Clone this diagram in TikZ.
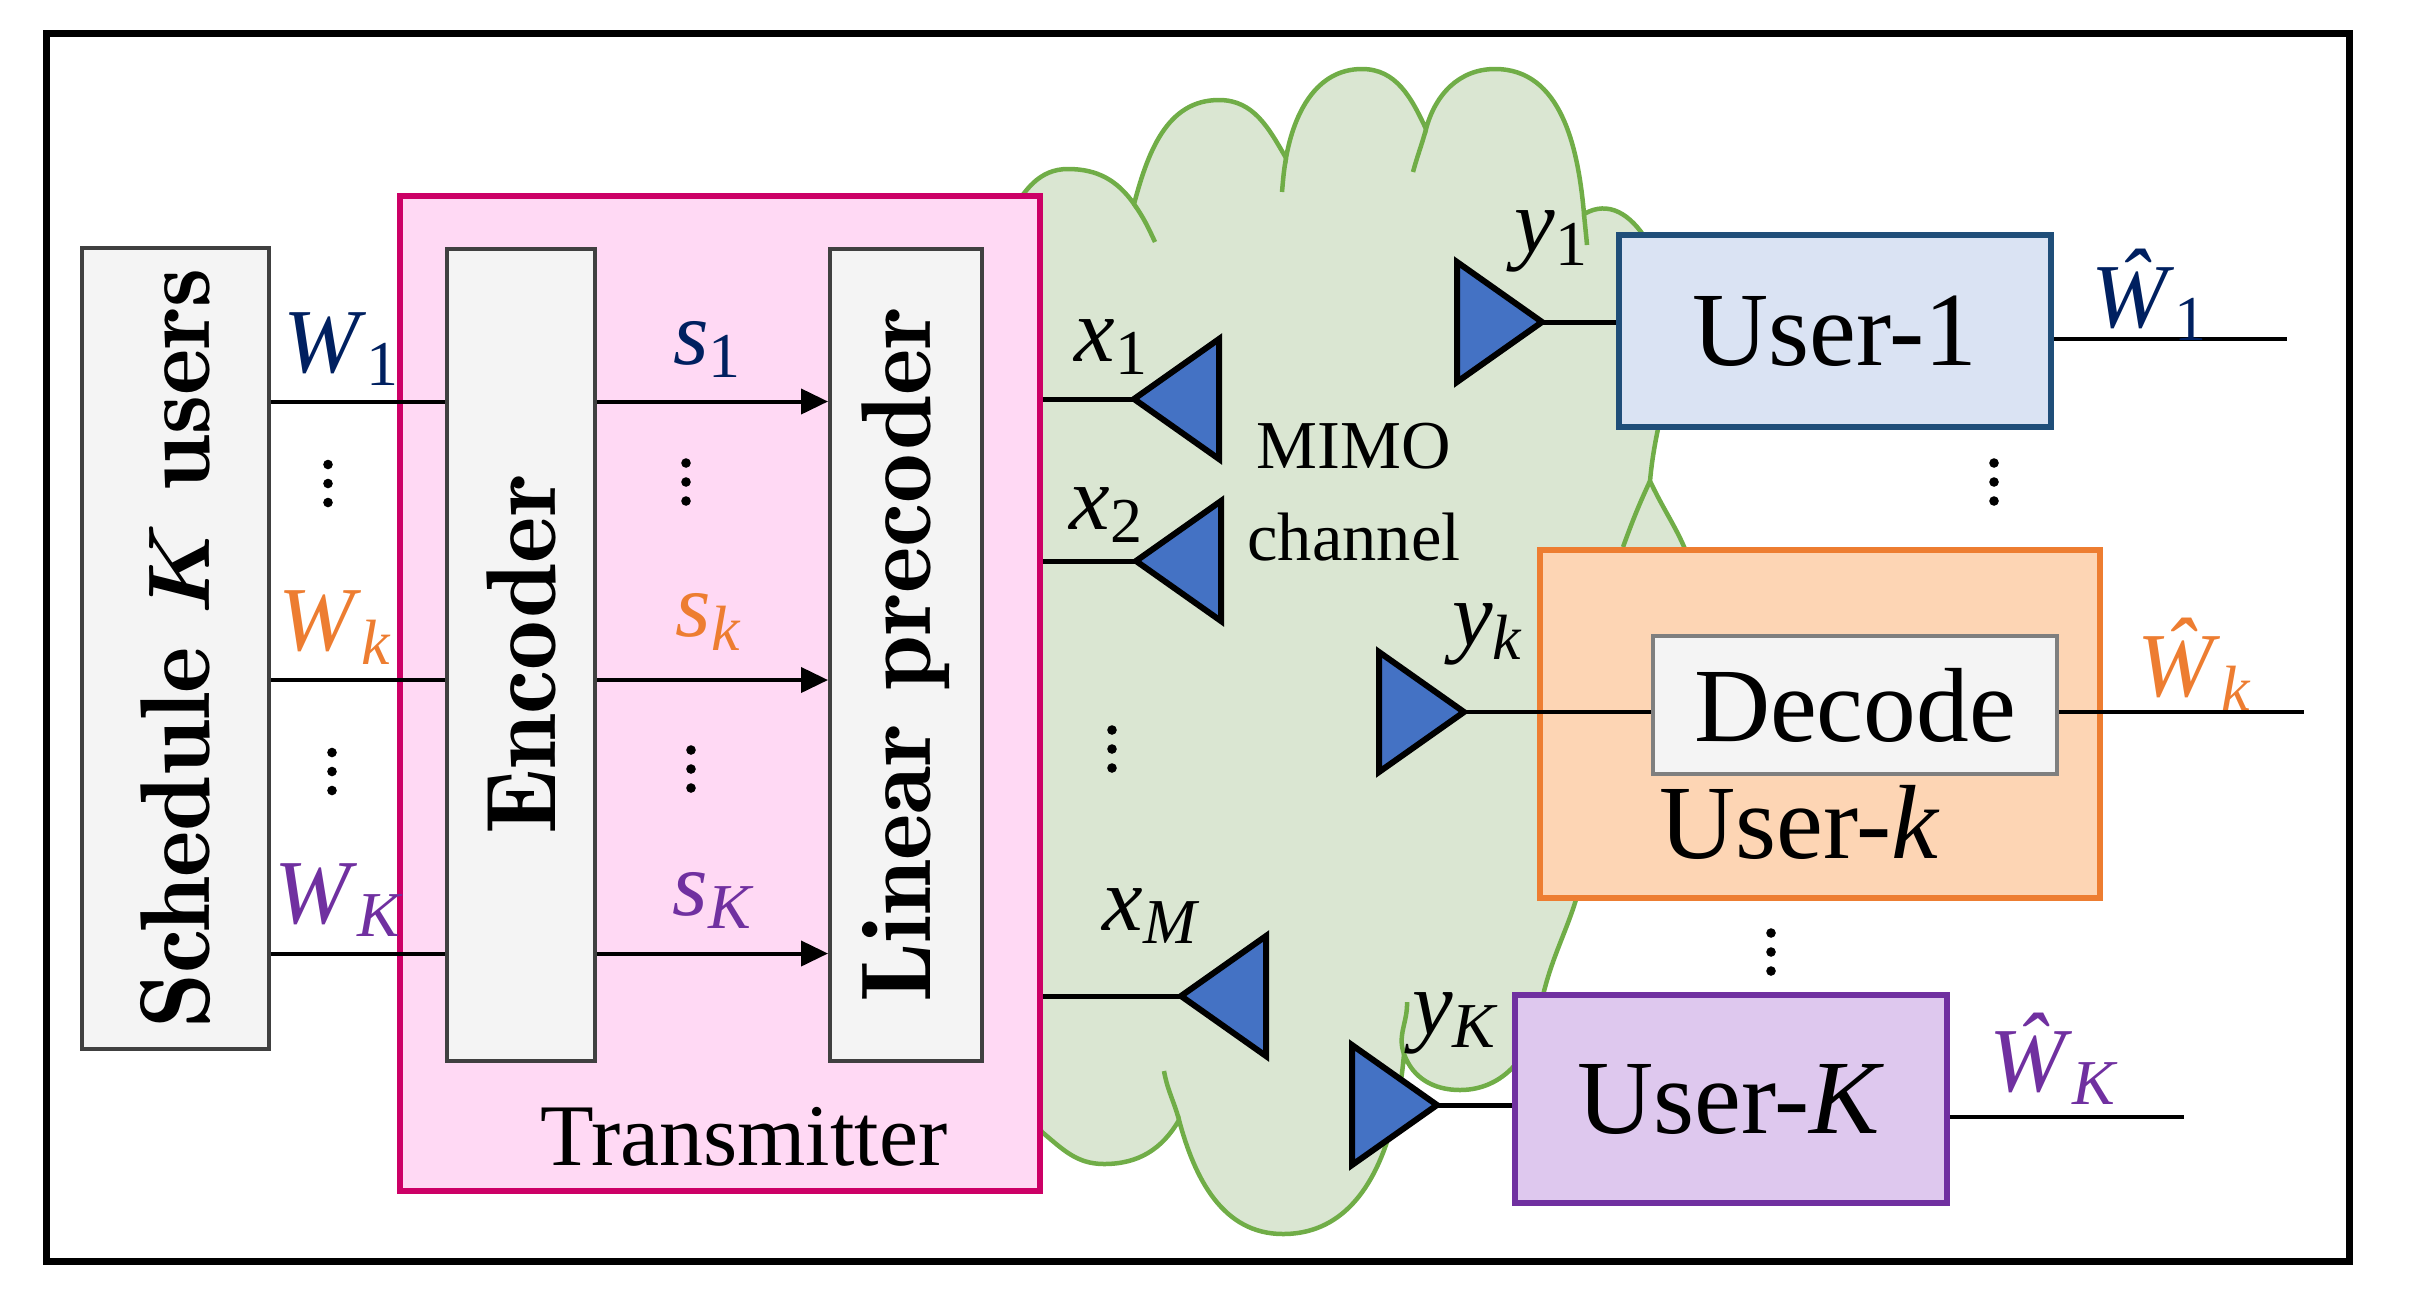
\documentclass[tikz,border=0pt]{standalone}
\usepackage{amsmath}
\usepackage{fontspec}
\usepackage{tikz}
\usetikzlibrary{arrows.meta}
\newfontfamily\tnr{Liberation Serif}
\newfontfamily\lmten{lmromandemi10-regular.otf}
\definecolor{grayfill}{HTML}{F4F4F4}
\definecolor{grayline}{HTML}{404040}
\definecolor{decline}{HTML}{7F7F7F}
\definecolor{pinkfill}{HTML}{FFD9F4}
\definecolor{pinkline}{HTML}{CC0066}
\definecolor{cloudfill}{HTML}{DAE6D2}
\definecolor{cloudgreen}{HTML}{70AD47}
\definecolor{bluefill}{HTML}{DAE3F3}
\definecolor{blueline}{HTML}{1F4E79}
\definecolor{orangefill}{HTML}{FDD5B4}
\definecolor{orangec}{HTML}{ED7D31}
\definecolor{purplefill}{HTML}{DEC8EE}
\definecolor{purplec}{HTML}{7030A0}
\definecolor{navyc}{HTML}{002060}
\definecolor{antblue}{HTML}{4472C4}
\newcommand{\lbl}[2]{\textit{#1}\textsubscript{#2}}

\begin{document}
\begin{tikzpicture}[x=0.1mm, y=-0.1mm,
  gbox/.style={draw=grayline, fill=grayfill, line width=0.4mm, inner sep=0pt, font=\lmten\fontsize{28.2}{34}\selectfont},
  ubox/.style={line width=0.65mm, inner sep=0pt, font=\tnr\fontsize{30}{36}\selectfont},
  lab/.style={font=\tnr\fontsize{26}{30}\selectfont, anchor=base, inner sep=0pt},
  wire/.style={line width=0.4mm},
  awire/.style={line width=0.5mm},
  ant/.style={fill=antblue, draw=black, line width=0.6mm},
  cloudline/.style={draw=cloudgreen, line width=0.45mm},
  rxant/.pic={\filldraw[ant] (0,0) -- (-85,-60) -- (-85,60) -- cycle;},
  txant/.pic={\filldraw[ant] (0,0) -- (85,-60) -- (85,60) -- cycle;},
  vdts/.pic={\foreach \d in {-19,0,19} \fill (0,\d) circle (0.48mm);}]
\useasboundingbox (0,0) rectangle (2423,1297);
\draw[line width=0.7mm] (46,33) rectangle (2349,1261);

\path[cloudline, fill=cloudfill] (1020,1100) -- (1010,215)
  to[out=60,in=180] (1068,169) to[out=0,in=125] (1134,204)
  to[out=75,in=180] (1219,100) to[out=0,in=120] (1286,158)
  to[out=80,in=180] (1362,69) to[out=0,in=115] (1426,129)
  to[out=75,in=180] (1495,69) to[out=0,in=95] (1584,214)
  to[out=30,in=90] (1672,330) to[out=-90,in=85] (1650,481)
  to[out=-65,in=90] (1695,600) to[out=-90,in=20] (1545,745)
  to[out=-20,in=90] (1585,840) to[out=-90,in=80] (1540,1010)
  to[out=-100,in=0] (1460,1090) to[out=180,in=-70] (1404,1054)
  to[out=-95,in=0] (1283,1234) to[out=180,in=-75] (1179,1120)
  to[out=-120,in=0] (1104,1164) to[out=180,in=-40] (1042,1132) -- cycle;
\draw[cloudline] (1134,204) to[out=-55,in=115] (1155,242);
\draw[cloudline] (1282,192) to[out=85,in=-100] (1286,158);
\draw[cloudline] (1413,172) to[out=75,in=-105] (1426,129);
\draw[cloudline] (1584,214) to[out=-85,in=95] (1587,245);
\draw[cloudline] (1650,481) to[out=-115,in=70] (1623,547);
\draw[cloudline] (1404,1054) to[out=110,in=-88] (1407,1002);
\draw[cloudline] (1179,1120) to[out=105,in=-80] (1164,1071);

\node[draw=pinkline, fill=pinkfill, line width=0.6mm, minimum width=64mm, minimum height=99.5mm] (tx) at (720,693.5) {};
\node[font=\tnr\fontsize{25}{30}\selectfont, anchor=base, inner sep=0pt] (txlabel) at (744,1165) {Transmitter};
\node[gbox, rotate=90, minimum width=80.1mm, minimum height=18.7mm] (sched) at (175.5,648.5) {Schedule $\boldsymbol{K}$ users};
\node[gbox, rotate=90, minimum width=81.2mm, minimum height=14.8mm] (enc) at (521,654.5) {Encoder};
\node[gbox, rotate=90, minimum width=81.2mm, minimum height=15.2mm] (prec) at (906,655) {Linear precoder};

\node[ubox, draw=blueline, fill=bluefill, minimum width=43.2mm, minimum height=19.2mm] (user1) at (1835,331) {User-1};
\node[ubox, draw=orangec, fill=orangefill, minimum width=56mm, minimum height=34.8mm] (userk) at (1820,724) {};
\node[ubox, draw=decline, fill=grayfill, line width=0.45mm, minimum width=40.4mm, minimum height=13.8mm] (decode) at (1855,705) {Decode};
\node[font=\tnr\fontsize{30}{36}\selectfont, anchor=base, inner sep=0pt] (userklabel) at (1800,858) {User-\textit{k}};
\node[ubox, draw=purplec, fill=purplefill, minimum width=43.2mm, minimum height=20.8mm] (userK) at (1731,1099) {User-\textit{K}};
\node[font=\tnr\fontsize{19.5}{26.2}\selectfont, align=center, anchor=north, inner sep=0pt] (mimo) at (1354,422) {MIMO\\channel};

\coordinate (r1) at (0,401.5);
\coordinate (rk) at (0,680);
\coordinate (rK) at (0,953.5);
\foreach \r in {r1,rk,rK} {
  \draw[wire] (sched.south |- \r) -- (enc.north |- \r);
  \draw[wire, -{Triangle[length=2.7mm, width=2.5mm]}] (enc.south |- \r) -- (prec.north |- \r);
}

\coordinate (tx1) at (1134,399);
\coordinate (tx2) at (1136,561);
\coordinate (txM) at (1181,996);
\coordinate (rx1) at (1542,322);
\coordinate (rxk) at (1464,712);
\coordinate (rxK) at (1437,1105);
\foreach \a in {tx1,tx2,txM} {
  \draw[awire] (tx.east |- \a) -- (\a);
  \pic at (\a) {txant};
}
\foreach \a in {rx1,rxk,rxK} \pic at (\a) {rxant};
\draw[awire] (rx1) -- (rx1 -| user1.west);
\draw[wire] (rxk) -- (rxk -| decode.west);
\draw[awire] (rxK) -- (rxK -| userK.west);

\coordinate (o1) at (2287,339);
\coordinate (ok) at (2304,712);
\coordinate (oK) at (2184,1117);
\draw[wire] (o1 -| user1.east) -- (o1);
\draw[wire] (ok -| decode.east) -- (ok);
\draw[wire] (oK -| userK.east) -- (oK);

\node[lab, text=navyc] (lw1) at (342,372) {\lbl{W}{1}};
\node[lab, text=orangec] (lwk) at (336,650) {\lbl{W}{\textit{k}}};
\node[lab, text=purplec] (lwK) at (340,923) {\lbl{W}{\textit{K}}};
\node[lab, text=navyc] (ls1) at (708,364) {\lbl{s}{1}};
\node[lab, text=orangec] (lsk) at (709,636) {\lbl{s}{\textit{k}}};
\node[lab, text=purplec] (lsK) at (714,915) {\lbl{s}{\textit{K}}};
\node[lab] (lx1) at (1112,361) {\lbl{x}{1}};
\node[lab] (lx2) at (1107,529) {\lbl{x}{2}};
\node[lab] (lxM) at (1152,930) {\lbl{x}{\textit{M}}};
\node[lab] (ly1) at (1552,252) {\lbl{y}{1}};
\node[lab] (lyk) at (1488,645) {\lbl{y}{\textit{k}}};
\node[lab] (lyK) at (1456,1034) {\lbl{y}{\textit{K}}};
\node[lab, text=navyc] (lo1) at (2150,327) {\lbl{\^W}{1}};
\node[lab, text=orangec] (lok) at (2195,696) {\lbl{\^W}{\textit{k}}};
\node[lab, text=purplec] (loK) at (2055,1091) {\lbl{\^W}{\textit{K}}};

\pic at (328,483.5) {vdts};
\pic at (332,771.5) {vdts};
\pic at (686,482) {vdts};
\pic at (691,769) {vdts};
\pic at (1112,749) {vdts};
\pic at (1994,482) {vdts};
\pic at (1771,952) {vdts};
\end{tikzpicture}
\end{document}
